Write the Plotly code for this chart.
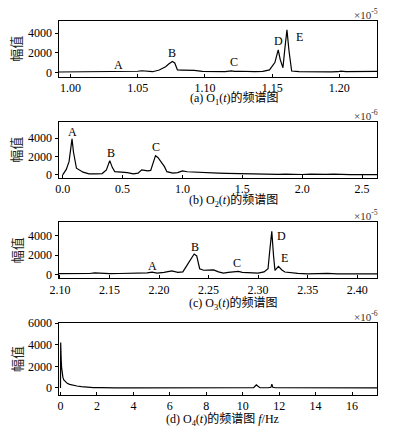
import plotly.graph_objects as go

# ---------------- data ----------------
# (a) O1(t)
a_freq = [0.991, 1.000, 1.010, 1.020, 1.030, 1.035, 1.040, 1.046, 1.050, 1.053, 1.057, 1.061,
          1.066, 1.0707, 1.073, 1.0757, 1.0775, 1.0795, 1.083, 1.088, 1.092, 1.098, 1.104, 1.110,
          1.115, 1.1195, 1.122, 1.126, 1.131, 1.137, 1.143, 1.148, 1.152, 1.1545, 1.156, 1.158,
          1.1595, 1.161, 1.1625, 1.1645, 1.170, 1.176, 1.182, 1.188, 1.194, 1.199, 1.201, 1.205,
          1.211, 1.217, 1.223, 1.228]
a_amp = [30, 40, 40, 40, 50, 100, 70, 60, 110, 160, 130, 60,
         240, 575, 850, 1100, 950, 240, 230, 220, 200, 100, 80, 60,
         70, 140, 90, 110, 80, 70, 100, 240, 1000, 2290, 1300, 470,
         2500, 4340, 2200, 130, 70, 50, 50, 60, 50, 60, 120, 70, 60, 80, 60, 90]

# (b) O2(t)
b_freq = [0.00, 0.03, 0.053, 0.066, 0.078, 0.09, 0.115, 0.17, 0.22, 0.28, 0.33, 0.365,
          0.393, 0.415, 0.435, 0.49, 0.54, 0.59, 0.63, 0.66, 0.71, 0.735, 0.755, 0.775,
          0.795, 0.82, 0.85, 0.87, 0.92, 0.96, 1.00, 1.04, 1.10, 1.16, 1.23, 1.30, 1.37,
          1.44, 1.50, 1.60, 1.70, 1.80, 1.86, 1.92, 2.00, 2.07, 2.12, 2.20, 2.26, 2.32,
          2.40, 2.50, 2.625]
b_amp = [0, 600, 1450, 2800, 3930, 2500, 730, 300, 120, 110, 150, 550,
         1560, 800, 360, 300, 250, 110, 200, 550, 440, 500, 1300, 2100,
         1900, 1500, 900, 360, 190, 250, 440, 350, 300, 300, 220, 200, 170,
         150, 90, 70, 60, 60, 100, 50, 50, 90, 50, 60, 90, 40, 30, 30, 40]

# (c) O3(t)
c_freq = [2.0985, 2.11, 2.12, 2.13, 2.135, 2.14, 2.15, 2.16, 2.17, 2.18, 2.188, 2.193,
          2.198, 2.205, 2.213, 2.219, 2.224, 2.228, 2.232, 2.2354, 2.238, 2.241, 2.245, 2.251,
          2.255, 2.26, 2.265, 2.27, 2.275, 2.28, 2.284, 2.29, 2.30, 2.306, 2.31, 2.3118,
          2.3138, 2.3155, 2.317, 2.3205, 2.324, 2.327, 2.333, 2.34, 2.35, 2.36, 2.365, 2.37,
          2.38, 2.39, 2.40, 2.41, 2.42]
c_amp = [60, 60, 70, 80, 140, 90, 60, 80, 90, 100, 150, 220,
         120, 200, 350, 200, 250, 900, 1600, 2100, 1900, 580, 420, 410,
         450, 250, 120, 200, 230, 310, 200, 180, 120, 250, 580, 2500,
         4450, 2000, 410, 830, 450, 240, 150, 100, 50, 80, 130, 90,
         50, 40, 40, 40, 50]

# (d) O4(t)
d_freq = [0.0, 0.01, 0.02, 0.04, 0.06, 0.09, 0.13, 0.18, 0.27, 0.37, 0.5, 0.7, 0.9,
          1.15, 1.46, 1.8, 2.2, 2.4, 3.0, 4.0, 5.0, 6.0, 7.0, 8.0, 9.0, 10.0, 10.25,
          10.3, 10.35, 10.6, 10.7, 10.75, 10.82, 10.95, 11.4, 11.55, 11.6, 11.65, 11.8,
          12.5, 13.5, 14.5, 15.5, 16.5, 17.37]
d_amp = [0, 4200, 3600, 2500, 1900, 1400, 1000, 740, 560, 430, 330, 240, 180,
         120, 60, 40, 30, 40, 10, 10, 10, 10, 10, 10, 10, 10, 10,
         60, 10, 30, 200, 280, 180, 20, 20, 60, 350, 60, 20,
         10, 10, 10, 10, 10, 10]

# peak labels
a_lab_text = ["A", "B", "C", "D", "E"]
a_lab_f = [1.036, 1.0757, 1.1218, 1.155, 1.170]
a_lab_v = [750, 1950, 1090, 3240, 3590]
b_lab_text = ["A", "B", "C"]
b_lab_f = [0.081, 0.40, 0.78]
b_lab_v = [4730, 2440, 2990]
c_lab_text = ["A", "B", "C", "D", "E"]
c_lab_f = [2.193, 2.236, 2.279, 2.324, 2.3266]
c_lab_v = [890, 2800, 1140, 4000, 1660]

captions = ["(a) O<sub>1</sub>(<i>t</i>)的频谱图",
            "(b) O<sub>2</sub>(<i>t</i>)的频谱图",
            "(c) O<sub>3</sub>(<i>t</i>)的频谱图",
            "(d) O<sub>4</sub>(<i>t</i>)的频谱图 <i>f</i>/Hz"]
exponents = ["×10<sup>-5</sup>", "×10<sup>-6</sup>", "×10<sup>-5</sup>", "×10<sup>-6</sup>"]
y_title = "幅值"

x_ticks = [[1.00, 1.05, 1.10, 1.15, 1.20],
           [0.0, 0.5, 1.0, 1.5, 2.0, 2.5],
           [2.10, 2.15, 2.20, 2.25, 2.30, 2.35, 2.40],
           [0, 2, 4, 6, 8, 10, 12, 14, 16]]
x_fmt = [".2f", ".1f", ".2f", "d"]
y_ticks = [[0, 2000, 4000], [0, 2000, 4000], [0, 2000, 4000], [0, 2000, 4000, 6000]]

# ---------------- layout geometry (pixels) ----------------
W, H = 394, 434
LEFT, RIGHT = 58.5, 377
boxes = [(21, 76.7), (121.7, 177.7), (222.3, 278.3), (323, 395)]
x_ranges = [[0.991, 1.228], [-0.035, 2.625], [2.0985, 2.42], [-0.11, 17.37]]
y_ranges = [[-450, 5250], [-300, 5800], [-415, 5390], [-650, 6000]]
cap_pos = [(235, 98.5), (233, 200), (233, 303), (222, 419)]

FONT = "Liberation Serif, Times New Roman, Noto Sans CJK SC, serif"
CJK = "Liberation Serif, Noto Sans CJK SC, serif"


def pxx(x):
    return x / W


def pxy(y):
    return 1 - y / H


fig = go.Figure()
series = [(a_freq, a_amp), (b_freq, b_amp), (c_freq, c_amp), (d_freq, d_amp)]
labels = [(a_lab_f, a_lab_v, a_lab_text), (b_lab_f, b_lab_v, b_lab_text),
          (c_lab_f, c_lab_v, c_lab_text), None]

annotations = []
for i, (fx, fy) in enumerate(series):
    n = "" if i == 0 else str(i + 1)
    fig.add_trace(go.Scatter(x=fx, y=fy, mode="lines",
                             line=dict(color="black", width=1.2),
                             xaxis="x" + n, yaxis="y" + n, showlegend=False,
                             hoverinfo="skip"))
    top, bot = boxes[i]
    fig.update_layout(**{
        "xaxis" + n: dict(domain=[pxx(LEFT), pxx(RIGHT)], anchor="y" + n,
                          range=x_ranges[i], tickvals=x_ticks[i], tickformat=x_fmt[i],
                          ticks="inside", ticklen=3, tickcolor="black",
                          showline=True, linecolor="black", linewidth=1, mirror=True,
                          showgrid=False, zeroline=False, automargin=False,
                          tickfont=dict(family=FONT, size=12, color="black")),
        "yaxis" + n: dict(domain=[pxy(bot), pxy(top)], anchor="x" + n,
                          range=y_ranges[i], tickvals=y_ticks[i],
                          ticks="outside", ticklen=3, tickcolor="black",
                          showline=True, linecolor="black", linewidth=1, mirror=True,
                          showgrid=False, zeroline=False, automargin=False,
                          tickfont=dict(family=FONT, size=12, color="black")),
    })
    if labels[i] is not None:
        lf, lv, lt = labels[i]
        for f, v, t in zip(lf, lv, lt):
            annotations.append(dict(x=f, y=v, xref="x" + n, yref="y" + n, text=t,
                                    showarrow=False, xanchor="center", yanchor="middle",
                                    font=dict(family=FONT, size=12, color="black")))
    cx, cy = cap_pos[i]
    annotations.append(dict(x=pxx(cx), y=pxy(cy), xref="paper", yref="paper",
                            text=captions[i], showarrow=False,
                            xanchor="center", yanchor="middle",
                            font=dict(family=CJK, size=12, color="black")))
    annotations.append(dict(x=pxx(380), y=pxy(top - 7), xref="paper", yref="paper",
                            text=exponents[i], showarrow=False,
                            xanchor="right", yanchor="middle",
                            font=dict(family=FONT, size=11, color="#333")))
    annotations.append(dict(x=pxx(16), y=pxy((top + bot) / 2), xref="paper", yref="paper",
                            text=y_title, showarrow=False, textangle=-90,
                            xanchor="center", yanchor="middle",
                            font=dict(family="Noto Sans CJK SC", size=13, color="#222")))

fig.update_layout(width=W, height=H, autosize=False,
                  margin=dict(l=0, r=0, t=0, b=0, autoexpand=False),
                  paper_bgcolor="white", plot_bgcolor="white",
                  annotations=annotations)

fig.write_html("out.html", config={"displayModeBar": False, "staticPlot": True},
               post_script="document.body.style.margin='0';document.body.style.overflow='hidden';")
